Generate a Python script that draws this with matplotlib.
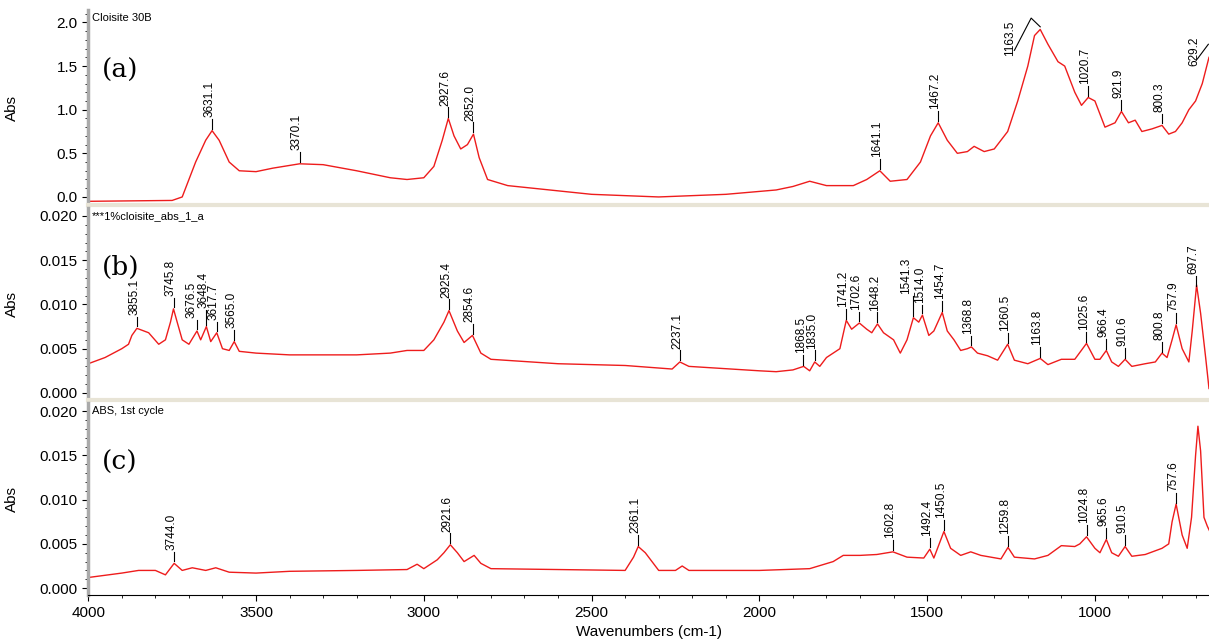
import numpy as np
import matplotlib.pyplot as plt
from matplotlib.ticker import MultipleLocator

plt.rcParams['font.family'] = ['Liberation Sans', 'DejaVu Sans']

# (a) Cloisite 30B
wn_a = [4000, 3750, 3720, 3700, 3680, 3650, 3631, 3610, 3580, 3550, 3500, 3450, 3370, 3300, 3200,
        3100, 3050, 3000, 2970, 2945, 2927, 2910, 2890, 2870, 2852, 2835, 2810, 2750, 2600, 2500,
        2300, 2100, 1950, 1900, 1850, 1800, 1720, 1680, 1641, 1610, 1560, 1520, 1490, 1467, 1440,
        1410, 1380, 1360, 1330, 1300, 1260, 1230, 1200, 1180, 1163, 1140, 1110, 1090, 1060, 1040,
        1020, 1000, 970, 940, 921, 900, 880, 860, 830, 800, 780, 760, 740, 720, 700, 680, 660]
abs_a = [-0.05, -0.04, 0.0, 0.2, 0.4, 0.65, 0.76, 0.65, 0.4, 0.3, 0.29, 0.33, 0.38, 0.37, 0.3,
         0.22, 0.2, 0.22, 0.35, 0.65, 0.9, 0.7, 0.55, 0.6, 0.72, 0.45, 0.2, 0.13, 0.07, 0.03,
         0.0, 0.03, 0.08, 0.12, 0.18, 0.13, 0.13, 0.2, 0.3, 0.18, 0.2, 0.4, 0.7, 0.85, 0.65,
         0.5, 0.52, 0.58, 0.52, 0.55, 0.75, 1.1, 1.5, 1.85, 1.92, 1.75, 1.55, 1.5, 1.2, 1.05,
         1.14, 1.1, 0.8, 0.85, 0.98, 0.85, 0.88, 0.75, 0.78, 0.82, 0.72, 0.75, 0.85, 1.0, 1.1, 1.3, 1.6]
peaks_a = [3631.1, 3370.1, 2927.6, 2852.0, 1641.1, 1467.2, 1163.5, 1020.7, 921.9, 800.3, 629.2]

# (b) 1% cloisite ABS
wn_b = [4000, 3950, 3900, 3880, 3870, 3855, 3820, 3790, 3770, 3755, 3746, 3735, 3720, 3700, 3676,
        3665, 3648, 3635, 3617, 3600, 3580, 3565, 3550, 3500, 3400, 3200, 3100, 3050, 3000, 2970,
        2940, 2925, 2900, 2880, 2855, 2830, 2800, 2600, 2400, 2260, 2237, 2210, 2000, 1950, 1900,
        1868, 1850, 1835, 1820, 1800, 1780, 1760, 1741, 1725, 1702, 1680, 1665, 1648, 1630, 1600,
        1580, 1560, 1541, 1525, 1514, 1495, 1480, 1455, 1440, 1420, 1400, 1380, 1368, 1350, 1320,
        1290, 1260, 1240, 1200, 1163, 1140, 1100, 1060, 1025, 1000, 985, 966, 950, 930, 910, 890,
        850, 820, 800, 785, 770, 758, 740, 720, 710, 697, 685, 670, 660]
abs_b = [0.0033, 0.004, 0.005, 0.0055, 0.0065, 0.0073, 0.0068, 0.0055, 0.006, 0.008, 0.0095, 0.008,
         0.006, 0.0055, 0.007, 0.006, 0.0075, 0.0058, 0.0068, 0.005, 0.0048, 0.0058, 0.0047, 0.0045,
         0.0043, 0.0043, 0.0045, 0.0048, 0.0048, 0.006, 0.008, 0.0093, 0.007, 0.0057, 0.0065, 0.0045,
         0.0038, 0.0033, 0.0031, 0.0027, 0.0035, 0.003, 0.0025, 0.0024, 0.0026, 0.003, 0.0025, 0.0035,
         0.003, 0.004, 0.0045, 0.005, 0.0082, 0.0072, 0.0079, 0.0072, 0.0068, 0.0078, 0.0068, 0.006,
         0.0045, 0.006, 0.0085, 0.008, 0.0088, 0.0065, 0.007, 0.0091, 0.007, 0.006, 0.0048, 0.005,
         0.0052, 0.0045, 0.0042, 0.0037, 0.0055, 0.0037, 0.0033, 0.0039, 0.0032, 0.0038, 0.0038,
         0.0056, 0.0038, 0.0038, 0.0048, 0.0035, 0.003, 0.0038, 0.003, 0.0033, 0.0035, 0.0045, 0.004,
         0.006, 0.0077, 0.005, 0.0035, 0.007, 0.0122, 0.009, 0.004, 0.0005]
peaks_b = [3855.1, 3745.8, 3676.5, 3648.4, 3617.7, 3565.0, 2925.4, 2854.6, 2237.1, 1868.5, 1835.0,
           1741.2, 1702.6, 1648.2, 1541.3, 1514.0, 1454.7, 1368.8, 1260.5, 1163.8, 1025.6, 966.4,
           910.6, 800.8, 757.9, 697.7]

# (c) ABS, 1st cycle
wn_c = [4000, 3900, 3850, 3800, 3770, 3744, 3720, 3690, 3650, 3620, 3580, 3500, 3400, 3200, 3050,
        3020, 3000, 2960, 2940, 2921, 2900, 2880, 2850, 2830, 2800, 2600, 2400, 2375, 2361, 2340,
        2320, 2300, 2250, 2230, 2210, 2000, 1850, 1780, 1750, 1700, 1650, 1602, 1560, 1510, 1492,
        1480, 1450, 1430, 1400, 1370, 1340, 1280, 1259, 1240, 1180, 1140, 1100, 1060, 1045, 1025,
        1000, 985, 966, 950, 930, 910, 890, 850, 800, 780, 770, 758, 740, 725, 712, 700, 693, 685,
        675, 665, 655]
abs_c = [0.0012, 0.0017, 0.002, 0.002, 0.0015, 0.0028, 0.002, 0.0023, 0.002, 0.0023, 0.0018, 0.0017,
         0.0019, 0.002, 0.0021, 0.0027, 0.0022, 0.0032, 0.004, 0.0049, 0.004, 0.003, 0.0037, 0.0028,
         0.0022, 0.0021, 0.002, 0.0035, 0.0047, 0.004, 0.003, 0.002, 0.002, 0.0025, 0.002, 0.002,
         0.0022, 0.003, 0.0037, 0.0037, 0.0038, 0.0041, 0.0035, 0.0034, 0.0044, 0.0034, 0.0064,
         0.0045, 0.0037, 0.0041, 0.0037, 0.0033, 0.0046, 0.0035, 0.0033, 0.0037, 0.0048, 0.0047,
         0.005, 0.0058, 0.0045, 0.004, 0.0055, 0.004, 0.0036, 0.0047, 0.0036, 0.0038, 0.0045, 0.005,
         0.0075, 0.0095, 0.006, 0.0045, 0.008, 0.015, 0.0183, 0.0155, 0.008, 0.007, 0.0062]
peaks_c = [3744.0, 2921.6, 2361.1, 1602.8, 1492.4, 1450.5, 1259.8, 1024.8, 965.6, 910.5, 757.6]

panels = [
    ('(a)', 'Cloisite 30B', wn_a, abs_a, peaks_a, (-0.09, 2.14), 0.5, 0.1, '%.1f'),
    ('(b)', '***1%cloisite_abs_1_a', wn_b, abs_b, peaks_b, (-0.0008, 0.0209), 0.005, 0.001, '%.3f'),
    ('(c)', 'ABS, 1st cycle', wn_c, abs_c, peaks_c, (-0.0008, 0.0209), 0.005, 0.001, '%.3f'),
]
boxes = [(0.680, 0.304), (0.375, 0.300), (0.070, 0.300)]
# labels the software moved off their peak: text x, text bottom y, leader line points
moved = {1163.5: (1252, 1.62, [(1240, 1.68), (1190, 2.05), (1163, 1.95)]),
         629.2: (705, 1.5, [(695, 1.58), (662, 1.75)])}
lifted = {1541.3: 0.0012, 3648.4: 0.0006, 1514.0: -0.0002}
shifted = {1541.3: -15, 3676.5: -8}

fig = plt.figure(figsize=(12.09, 6.4), dpi=100)
for i, (letter, name, wn, ab, peaks, ylim, major, minor, fmt) in enumerate(panels):
    ax = fig.add_axes([0.073, boxes[i][0], 0.927, boxes[i][1]])
    ax.plot(wn, ab, color='#ee1c1c', lw=1)
    ax.set_xlim(4000, 660)
    ax.set_ylim(*ylim)
    ax.yaxis.set_major_locator(MultipleLocator(major))
    ax.yaxis.set_minor_locator(MultipleLocator(minor))
    ax.yaxis.set_major_formatter(plt.FormatStrFormatter(fmt))
    ax.xaxis.set_major_locator(MultipleLocator(500))
    ax.xaxis.set_minor_locator(MultipleLocator(100))
    for s in ['top', 'right']:
        ax.spines[s].set_visible(False)
    ax.spines['left'].set_color('#aaaaaa')
    ax.spines['left'].set_linewidth(2.5)
    ax.tick_params(labelsize=11, length=4)
    ax.set_ylabel('Abs', fontsize=11)
    ax.yaxis.set_label_coords(-0.062, 0.5)
    ax.text(0.003, 0.985, name, transform=ax.transAxes, fontsize=8, va='top')
    ax.text(0.012, 0.65, letter, transform=ax.transAxes, fontsize=19,
            family='DejaVu Serif')
    span = ylim[1] - ylim[0]
    for p in peaks:
        y = np.interp(p, wn[::-1], ab[::-1])
        if p in moved:
            tx, ty, pts = moved[p]
            ax.plot([q[0] for q in pts], [q[1] for q in pts], color='black', lw=0.8, clip_on=False)
            ax.text(tx, ty, '%.1f' % p, rotation=90, fontsize=8.5, ha='center', va='bottom')
            continue
        d = lifted.get(p, 0)
        ax.plot([p, p], [y + 0.01 * span, y + 0.06 * span + d], color='black', lw=0.8)
        ax.text(p + 8 - shifted.get(p, 0), y + 0.07 * span + d, '%.1f' % p, rotation=90,
                fontsize=8.5, ha='center', va='bottom')
    if i < 2:
        ax.spines['bottom'].set_color('#e8e4d6')
        ax.spines['bottom'].set_linewidth(3)
        ax.tick_params(axis='x', bottom=False, which='both', labelbottom=False)
    else:
        ax.set_xlabel('Wavenumbers (cm-1)', fontsize=11)

fig.savefig('out.png')
